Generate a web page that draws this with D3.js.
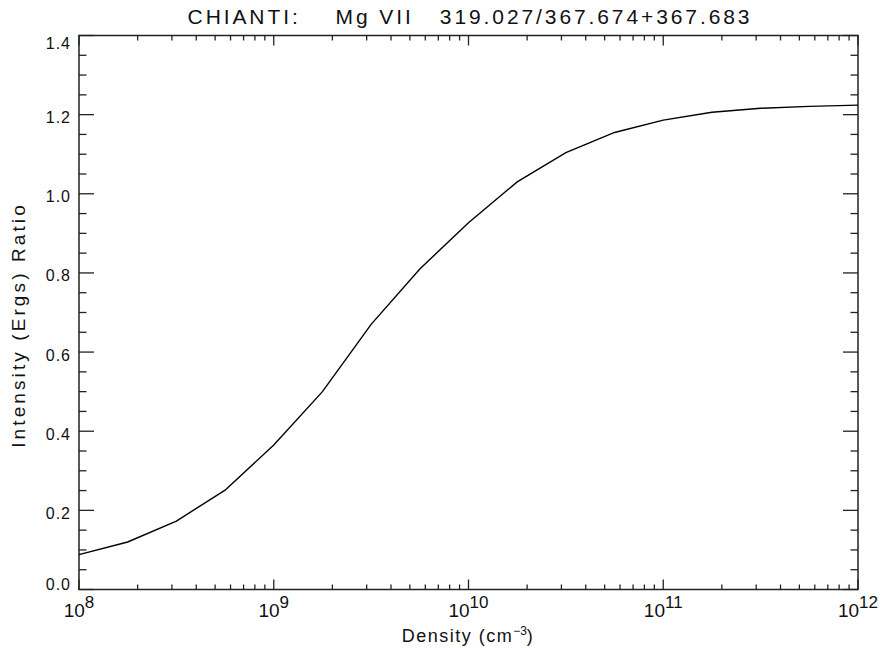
<!DOCTYPE html>
<html>
<head>
<meta charset="utf-8">
<script src="https://cdn.jsdelivr.net/npm/d3@7"></script>
<style>
  html, body { margin: 0; padding: 0; background: #fff; }
  svg { display: block; }
  text { font-family: "Liberation Sans", Arial, sans-serif; fill: #111; }
</style>
</head>
<body>
<svg id="chart" width="884" height="648"></svg>
<script>
// Mg VII density-sensitive line ratio 319.027 / (367.674 + 367.683)
const logDensity = [8.00, 8.25, 8.50, 8.75, 9.00, 9.25, 9.50, 9.75, 10.00,
                    10.25, 10.50, 10.75, 11.00, 11.25, 11.50, 11.75, 12.00];
const ratio = [0.088, 0.120, 0.173, 0.251, 0.365, 0.500, 0.670, 0.810, 0.927,
               1.030, 1.104, 1.155, 1.186, 1.206, 1.216, 1.221, 1.224];

const xDecades = [8, 9, 10, 11, 12];
const yMajor = [0.0, 0.2, 0.4, 0.6, 0.8, 1.0, 1.2, 1.4];

const titleText = "CHIANTI:    Mg VII   319.027/367.674+367.683";
const xTitle = "Density (cm";
const yTitle = "Intensity (Ergs) Ratio";

const svg = d3.select("#chart");
const L = 79, R = 858, T = 35.5, B = 589.5;

const x = d3.scaleLog().domain([1e8, 1e12]).range([L, R]);
const y = d3.scaleLinear().domain([0, 1.4]).range([B, T]);

const axisColor = "#222";
const g = svg.append("g");

// frame
g.append("rect")
  .attr("x", L).attr("y", T).attr("width", R - L).attr("height", B - T)
  .attr("fill", "none").attr("stroke", axisColor).attr("stroke-width", 1.5);

// x ticks: decades (major) and 2..9 (minor), mirrored on the top edge
const xTicks = [];
for (let d = 8; d < 12; d++) {
  for (let m = 1; m <= 9; m++) xTicks.push({ v: m * Math.pow(10, d), major: m === 1 });
}
xTicks.push({ v: 1e12, major: true });
xTicks.forEach(t => {
  const px = x(t.v);
  const len = t.major ? 10 : 5;
  g.append("line").attr("x1", px).attr("x2", px).attr("y1", B).attr("y2", B - len)
    .attr("stroke", axisColor).attr("stroke-width", 1.3);
  g.append("line").attr("x1", px).attr("x2", px).attr("y1", T).attr("y2", T + len)
    .attr("stroke", axisColor).attr("stroke-width", 1.3);
});

// y ticks: every 0.2 (major) with 0.05 minors, mirrored on the right edge
const yTickVals = d3.range(0, 1.4001, 0.05);
yTickVals.forEach(v => {
  const py = y(v);
  const major = Math.abs(v / 0.2 - Math.round(v / 0.2)) < 1e-6;
  const len = major ? 15 : 7.5;
  g.append("line").attr("x1", L).attr("x2", L + len).attr("y1", py).attr("y2", py)
    .attr("stroke", axisColor).attr("stroke-width", 1.3);
  g.append("line").attr("x1", R).attr("x2", R - len).attr("y1", py).attr("y2", py)
    .attr("stroke", axisColor).attr("stroke-width", 1.3);
});

// y tick labels; the end labels are nudged inside the axis span
const yLabelShift = d => (d === 0 ? 0.5 : d === 1.4 ? 13.5 : 8.5);
g.selectAll("text.ylab").data(yMajor).enter().append("text")
  .attr("class", "ylab")
  .attr("x", 71).attr("y", d => y(d) + yLabelShift(d))
  .attr("text-anchor", "end")
  .attr("font-size", 16).attr("letter-spacing", 1)
  .text(d => d.toFixed(1));

// x tick labels: 10 with superscript exponent
xDecades.forEach(d => {
  const t = g.append("text")
    .attr("x", x(Math.pow(10, d))).attr("y", 617)
    .attr("text-anchor", "middle")
    .attr("font-size", 19);
  t.append("tspan").text("10");
  t.append("tspan").attr("dy", -9).attr("font-size", 17).text(String(d));
});

// curve
const line = d3.line()
  .x((d, i) => x(Math.pow(10, logDensity[i])))
  .y(d => y(d));
g.append("path").datum(ratio)
  .attr("d", line)
  .attr("fill", "none").attr("stroke", "#000").attr("stroke-width", 1.4);

// title
svg.append("text")
  .attr("x", 470).attr("y", 24)
  .attr("text-anchor", "middle")
  .attr("font-size", 21).attr("letter-spacing", 2.9)
  .attr("xml:space", "preserve")
  .style("white-space", "pre")
  .text(titleText);

// x axis title
const xt = svg.append("text")
  .attr("x", 468).attr("y", 642)
  .attr("text-anchor", "middle")
  .attr("font-size", 18).attr("letter-spacing", 1.5);
xt.append("tspan").text(xTitle);
xt.append("tspan").attr("dy", -7).attr("font-size", 12).attr("letter-spacing", 0).text("−3");
xt.append("tspan").attr("dy", 7).text(")");

// y axis title
svg.append("text")
  .attr("transform", "translate(25,325) rotate(-90)")
  .attr("text-anchor", "middle")
  .attr("font-size", 19).attr("letter-spacing", 3.1)
  .text(yTitle);
</script>
</body>
</html>
